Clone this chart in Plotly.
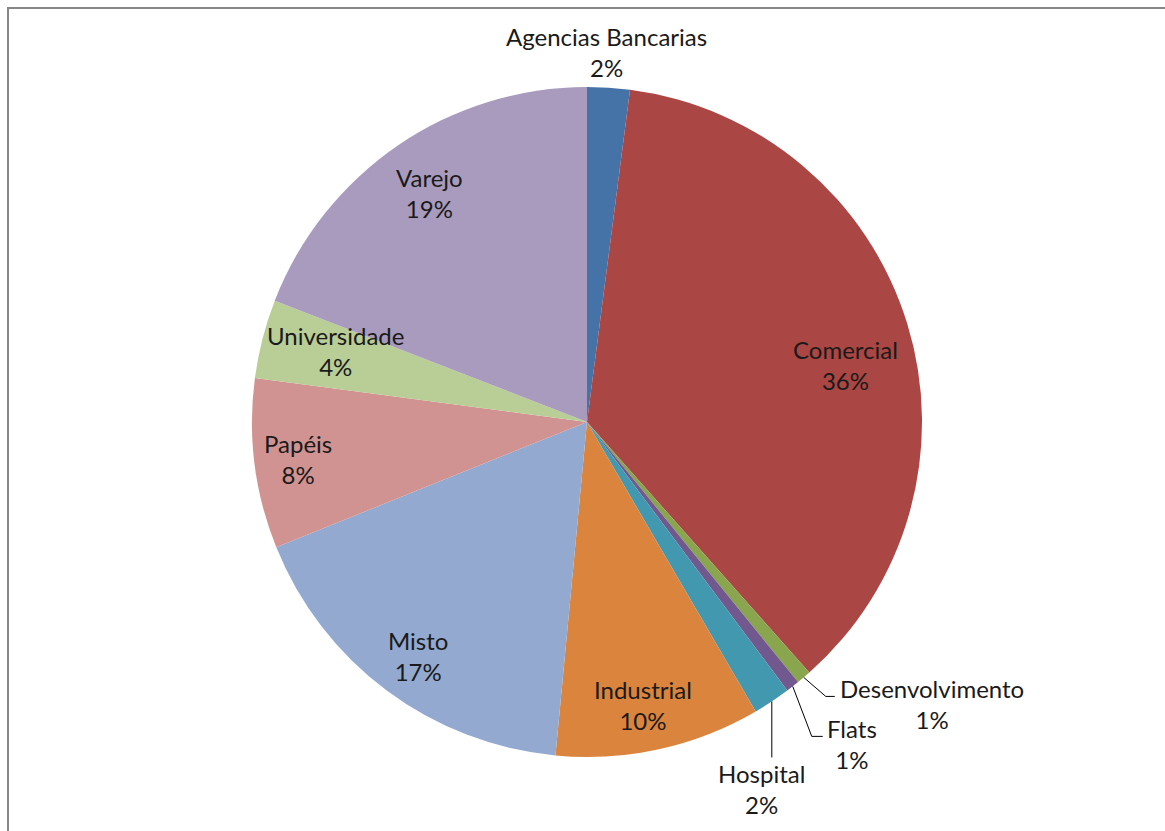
import math
import plotly.graph_objects as go

# ---- data, clockwise from 12 o'clock ----
labels = ["Agencias Bancarias", "Comercial", "Desenvolvimento", "Flats", "Hospital",
          "Industrial", "Misto", "Papéis", "Universidade", "Varejo"]
values = [2.05, 36.4, 0.7, 0.65, 1.8, 9.9, 17.4, 8.2, 3.8, 19.1]

# ---- styling ----
colors = ["#4572A7", "#AA4643", "#89A54E", "#71588F", "#4198AF",
          "#DB843D", "#93A9CF", "#D19392", "#B9CD96", "#A99BBD"]

W, H = 1165, 831
M_L, M_R, M_T, M_B = 252, 243, 87, 74
PW = W - M_L - M_R
PH = H - M_T - M_B
CX, CY = M_L + PW / 2, M_T + PH / 2
R = min(PW, PH) / 2

FONT = dict(family="Lato, 'Open Sans', sans-serif", size=24, color="#1a1a1a")

# label placement: inside -> (radius factor, angle nudge deg)
# outside -> leader line elbow offset / tail length / text offset (pixels)
label_place = {
    "Agencias Bancarias": dict(kind="free", k=1.105, nudge=-0.6),
    "Comercial": dict(kind="free", k=0.79, nudge=4.6),
    "Desenvolvimento": dict(kind="leader", elbow=(22, 19), tail=9, text=(3, 8), anchor="left"),
    "Flats": dict(kind="leader", elbow=(19, 50), tail=11, text=(2, 8), anchor="left"),
    "Hospital": dict(kind="leader", elbow=(0, 56), tail=0, text=(-10, 32), anchor="center"),
    "Industrial": dict(kind="free", k=0.86, nudge=1.3),
    "Misto": dict(kind="free", k=0.86, nudge=-0.9),
    "Papéis": dict(kind="free", k=0.87, nudge=0.0),
    "Universidade": dict(kind="free", k=0.78, nudge=1.4),
    "Varejo": dict(kind="free", k=0.83, nudge=0.0),
}


def to_paper(px, py):
    return (px - M_L) / PW, (M_T + PH - py) / PH


def polar(theta_deg, k):
    t = math.radians(theta_deg)
    return CX + R * k * math.sin(t), CY - R * k * math.cos(t)


fig = go.Figure(go.Pie(
    labels=labels, values=values, sort=False, direction="clockwise", rotation=0,
    marker=dict(colors=colors, line=dict(width=0)),
    textinfo="none", hoverinfo="label+percent", showlegend=False,
))

total = sum(values)
cum = 0.0
annotations = []
shapes = []
for lab, v in zip(labels, values):
    a0 = cum / total * 360
    cum += v
    a1 = cum / total * 360
    mid = (a0 + a1) / 2
    text = f"{lab}<br>{round(v / total * 100)}%"
    p = label_place[lab]
    if p["kind"] == "free":
        px, py = polar(mid + p["nudge"], p["k"])
        xa = "center"
    else:
        ex, ey = polar(mid, 1.0)
        bx, by = ex + p["elbow"][0], ey + p["elbow"][1]
        tx, ty = bx + p["tail"], by
        pts = [(ex, ey), (bx, by), (tx, ty)]
        path = "M " + " L ".join(f"{to_paper(x, y)[0]:.5f},{to_paper(x, y)[1]:.5f}" for x, y in pts)
        shapes.append(dict(type="path", xref="paper", yref="paper", path=path,
                           line=dict(color="#000000", width=1)))
        px, py = tx + p["text"][0], ty + p["text"][1]
        xa = p["anchor"]
    xp, yp = to_paper(px, py)
    annotations.append(dict(x=xp, y=yp, xref="paper", yref="paper", text=text,
                            showarrow=False, xanchor=xa, yanchor="middle",
                            align="center", font=FONT))

# chart border (cut by the picture on the right and bottom)
bx0, by0 = to_paper(8, 8)
bx1, by1 = to_paper(W + 20, H + 20)
shapes.append(dict(type="rect", xref="paper", yref="paper", x0=bx0, y0=by1, x1=bx1, y1=by0,
                   line=dict(color="#868686", width=2), fillcolor="rgba(0,0,0,0)"))

fig.update_layout(
    width=W, height=H,
    margin=dict(l=M_L, r=M_R, t=M_T, b=M_B),
    paper_bgcolor="white", plot_bgcolor="white",
    annotations=annotations, shapes=shapes,
)
fig.write_html("out.html")
